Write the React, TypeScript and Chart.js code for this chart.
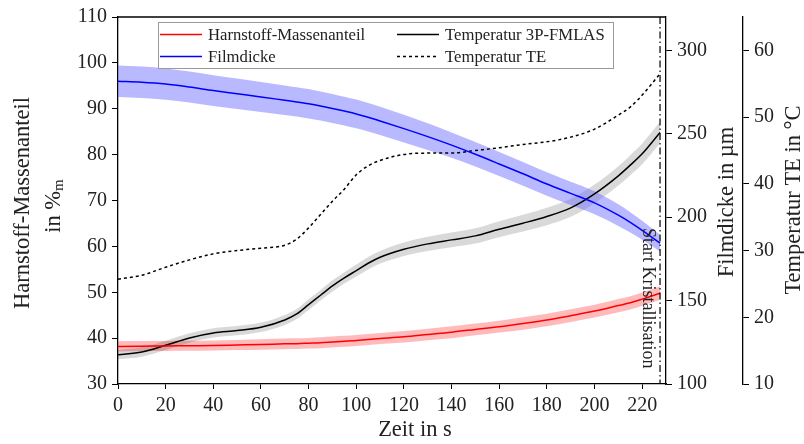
import React, { useEffect, useRef } from "react";
import { Chart, registerables } from "chart.js";

Chart.register(...registerables);

// time in s
const time = [0, 10, 20, 30, 40, 50, 60, 70, 75, 80, 85, 90, 95, 100, 105, 110, 120, 130, 140, 150, 160, 170, 180, 190, 200, 210, 215, 220, 227.5];

// Harnstoff-Massenanteil in %m (left axis)
const harnstoff = [38.2, 38.25, 38.3, 38.35, 38.4, 38.5, 38.6, 38.75, 38.8, 38.9, 39.0, 39.15, 39.3, 39.5, 39.7, 39.9, 40.3, 40.8, 41.3, 41.9, 42.5, 43.2, 43.95, 44.9, 45.9, 47.1, 47.7, 48.5, 49.8];
const harnstoffErr = [1.1, 1.1, 1.1, 1.1, 1.1, 1.1, 1.15, 1.15, 1.15, 1.15, 1.2, 1.2, 1.2, 1.2, 1.2, 1.2, 1.25, 1.25, 1.3, 1.3, 1.3, 1.35, 1.35, 1.4, 1.4, 1.45, 1.45, 1.45, 1.5];

// Filmdicke in µm (right axis 1)
const filmdicke = [281.5, 280.9, 279.8, 278.0, 275.9, 274.0, 272.1, 270.1, 269.1, 268.0, 266.7, 265.2, 263.6, 261.9, 259.9, 257.7, 253.1, 248.3, 243.2, 237.7, 231.9, 226.0, 219.9, 214.3, 208.6, 201.2, 196.9, 192.1, 184.4];
const filmdickeErr = [9.5, 9.5, 9.4, 9.3, 9.2, 9.1, 9.0, 8.9, 8.8, 8.8, 8.7, 8.7, 8.6, 8.6, 8.5, 8.5, 8.3, 8.0, 7.6, 7.3, 7.2, 7.1, 7.0, 7.0, 6.9, 6.5, 6.1, 5.7, 5.0];

// Temperatur 3P-FMLAS in °C (right axis 2)
const temp3p = [14.4, 14.8, 15.8, 16.9, 17.65, 18.0, 18.5, 19.6, 20.5, 21.9, 23.3, 24.7, 25.9, 27.0, 28.1, 29.0, 30.2, 31.0, 31.6, 32.2, 33.2, 34.1, 35.1, 36.4, 38.5, 41.2, 42.8, 44.5, 47.7];
const temp3pErr = [0.7, 0.7, 0.7, 0.7, 0.7, 0.7, 0.7, 0.75, 0.75, 0.8, 0.8, 0.85, 0.85, 0.9, 0.95, 0.95, 1.0, 1.05, 1.1, 1.15, 1.2, 1.25, 1.3, 1.35, 1.4, 1.45, 1.5, 1.55, 1.6];

// Temperatur TE in °C (right axis 2)
const tempTE = [25.7, 26.3, 27.5, 28.6, 29.5, 30.0, 30.35, 30.8, 31.7, 33.4, 35.4, 37.4, 39.2, 41.35, 42.7, 43.5, 44.4, 44.6, 44.6, 45.0, 45.4, 45.9, 46.3, 47.0, 48.2, 50.3, 51.5, 53.3, 56.5];

const xTicks = { min: 0, max: 230, step: 20 };
const yLeft = { min: 30, max: 110, step: 10 };
const yFilm = { min: 100, max: 320, step: 50 };
const yTemp = { min: 10, max: 65, step: 10 };
const kristallisationTime = 227.5;

const FONT = "'Liberation Serif', 'DejaVu Serif', serif";

const pts = (vals: number[]) => time.map((t, i) => ({ x: t, y: vals[i] }));
const band = (vals: number[], err: number[], sign: number) =>
  time.map((t, i) => ({ x: t, y: vals[i] + sign * err[i] }));

export default function App() {
  const ref = useRef<HTMLCanvasElement | null>(null);

  useEffect(() => {
    if (!ref.current) return;

    const overlay = {
      id: "overlay",
      afterDatasetsDraw(chart: any) {
        const { ctx, chartArea, scales } = chart;
        const { left, right, top, bottom } = chartArea;
        ctx.save();
        // top border
        ctx.strokeStyle = "#000";
        ctx.lineWidth = 1.3;
        ctx.beginPath();
        ctx.moveTo(left, top);
        ctx.lineTo(right, top);
        ctx.stroke();

        // vertical dash-dot line
        const xv = scales.x.getPixelForValue(kristallisationTime);
        ctx.setLineDash([7, 3, 1.5, 3]);
        ctx.lineWidth = 1.2;
        ctx.beginPath();
        ctx.moveTo(xv, top);
        ctx.lineTo(xv, bottom);
        ctx.stroke();
        ctx.setLineDash([]);

        // Start Kristallisation
        ctx.fillStyle = "#222";
        ctx.font = `18px ${FONT}`;
        ctx.save();
        ctx.translate(xv - 12, 228);
        ctx.rotate(Math.PI / 2);
        ctx.textAlign = "left";
        ctx.textBaseline = "middle";
        ctx.fillText("Start Kristallisation", 0, 0);
        ctx.restore();

        // legend box
        const bx = 158, by = 22, bw = 455, bh = 46;
        ctx.fillStyle = "#fff";
        ctx.fillRect(bx, by, bw, bh);
        ctx.strokeStyle = "#999";
        ctx.lineWidth = 1;
        ctx.strokeRect(bx + 0.5, by + 0.5, bw, bh);
        const items = [
          { x: 160, y: 34.5, color: "#ff0000", dash: [] as number[], label: "Harnstoff-Massenanteil" },
          { x: 160, y: 56.5, color: "#0000ff", dash: [] as number[], label: "Filmdicke" },
          { x: 397, y: 34.5, color: "#000", dash: [] as number[], label: "Temperatur 3P-FMLAS" },
          { x: 397, y: 56.5, color: "#000", dash: [3, 3], label: "Temperatur TE" },
        ];
        ctx.font = `16.7px ${FONT}`;
        ctx.textAlign = "left";
        ctx.textBaseline = "middle";
        for (const it of items) {
          ctx.strokeStyle = it.color;
          ctx.lineWidth = 1.5;
          ctx.setLineDash(it.dash);
          ctx.beginPath();
          ctx.moveTo(it.x, it.y);
          ctx.lineTo(it.x + 42, it.y);
          ctx.stroke();
          ctx.setLineDash([]);
          ctx.fillStyle = "#222";
          ctx.fillText(it.label, it.x + 48, it.y + 1);
        }

        // axis titles
        const TF = `22.5px ${FONT}`;
        ctx.fillStyle = "#222";
        ctx.font = TF;
        ctx.textAlign = "center";
        ctx.textBaseline = "middle";
        // left
        ctx.save();
        ctx.translate(23, 203);
        ctx.rotate(-Math.PI / 2);
        ctx.fillText("Harnstoff-Massenanteil", 0, 0);
        ctx.restore();
        ctx.save();
        ctx.translate(54, 206);
        ctx.rotate(-Math.PI / 2);
        const main = "in %";
        ctx.font = TF;
        const w1 = ctx.measureText(main).width;
        ctx.font = `15px ${FONT}`;
        const w2 = ctx.measureText("m").width;
        const start = -(w1 + w2) / 2;
        ctx.textAlign = "left";
        ctx.font = TF;
        ctx.fillText(main, start, 0);
        ctx.font = `15px ${FONT}`;
        ctx.fillText("m", start + w1, 5);
        ctx.restore();
        // right 1
        ctx.textAlign = "center";
        ctx.font = TF;
        ctx.save();
        ctx.translate(727, 202);
        ctx.rotate(-Math.PI / 2);
        ctx.fillText("Filmdicke in µm", 0, 0);
        ctx.restore();
        // right 2
        ctx.save();
        ctx.translate(794, 200);
        ctx.rotate(-Math.PI / 2);
        ctx.fillText("Temperatur TE in °C", 0, 0);
        ctx.restore();
        // x title
        ctx.fillText("Zeit in s", 415, 430);
        ctx.restore();
      },
    };

    const lineBase = {
      pointRadius: 0,
      borderWidth: 1.5,
      cubicInterpolationMode: "monotone" as const,
      fill: false,
    };
    const bandBase = {
      pointRadius: 0,
      borderWidth: 0,
      cubicInterpolationMode: "monotone" as const,
    };

    const chart = new Chart(ref.current, {
      type: "line",
      data: {
        datasets: [
          // bands
          { ...bandBase, data: band(filmdicke, filmdickeErr, 1), yAxisID: "y1", backgroundColor: "rgba(100,100,255,0.45)", borderColor: "transparent", fill: "+1", order: 10 },
          { ...bandBase, data: band(filmdicke, filmdickeErr, -1), yAxisID: "y1", borderColor: "transparent", fill: false, order: 10 },
          { ...bandBase, data: band(temp3p, temp3pErr, 1), yAxisID: "y2", backgroundColor: "rgba(0,0,0,0.15)", borderColor: "transparent", fill: "+1", order: 10 },
          { ...bandBase, data: band(temp3p, temp3pErr, -1), yAxisID: "y2", borderColor: "transparent", fill: false, order: 10 },
          { ...bandBase, data: band(harnstoff, harnstoffErr, 1), yAxisID: "y", backgroundColor: "rgba(255,60,60,0.35)", borderColor: "transparent", fill: "+1", order: 10 },
          { ...bandBase, data: band(harnstoff, harnstoffErr, -1), yAxisID: "y", borderColor: "transparent", fill: false, order: 10 },
          // lines
          { ...lineBase, label: "Harnstoff-Massenanteil", data: pts(harnstoff), yAxisID: "y", borderColor: "#ff0000", order: 1 },
          { ...lineBase, label: "Filmdicke", data: pts(filmdicke), yAxisID: "y1", borderColor: "#0000ff", order: 1 },
          { ...lineBase, label: "Temperatur 3P-FMLAS", data: pts(temp3p), yAxisID: "y2", borderColor: "#000", order: 1 },
          { ...lineBase, label: "Temperatur TE", data: pts(tempTE), yAxisID: "y2", borderColor: "#000", borderDash: [3, 3], order: 1 },
        ],
      },
      options: {
        responsive: false,
        animation: false,
        layout: { padding: { top: 17, left: 0, right: 0, bottom: 0 } },
        plugins: { legend: { display: false }, tooltip: { enabled: false }, title: { display: false } },
        scales: {
          x: {
            type: "linear",
            min: xTicks.min,
            max: xTicks.max,
            grid: { drawOnChartArea: false, drawTicks: true, tickLength: 5, color: "#000" },
            border: { color: "#000", width: 1.3 },
            ticks: { stepSize: xTicks.step, includeBounds: false, color: "#222", font: { family: FONT, size: 20 }, padding: 5, maxRotation: 0 },
            afterFit: (s: any) => { s.height = 60; },
          },
          y: {
            position: "left",
            min: yLeft.min,
            max: yLeft.max,
            grid: { drawOnChartArea: false, drawTicks: true, tickLength: 6, color: "#000" },
            border: { color: "#000", width: 1.3 },
            ticks: { stepSize: yLeft.step, includeBounds: false, color: "#222", font: { family: FONT, size: 20 }, padding: 5 },
            afterFit: (s: any) => { s.width = 118; },
          },
          y1: {
            position: "right",
            weight: 0,
            min: yFilm.min,
            max: yFilm.max,
            grid: { drawOnChartArea: false, drawTicks: true, tickLength: 6, color: "#000" },
            border: { color: "#000", width: 1.3 },
            ticks: { stepSize: yFilm.step, includeBounds: false, color: "#222", font: { family: FONT, size: 20 }, padding: 5 },
            afterFit: (s: any) => { s.width = 77; },
          },
          y2: {
            position: "right",
            weight: 1,
            min: yTemp.min,
            max: yTemp.max,
            grid: { drawOnChartArea: false, drawTicks: true, tickLength: 6, color: "#000" },
            border: { color: "#000", width: 1.3 },
            ticks: { stepSize: yTemp.step, includeBounds: false, color: "#222", font: { family: FONT, size: 20 }, padding: 5 },
            afterFit: (s: any) => { s.width = 61; },
          },
        },
      },
      plugins: [overlay],
    } as any);

    return () => chart.destroy();
  }, []);

  return (
    <div style={{ position: "fixed", left: 0, top: 0, width: 804, height: 444, background: "#fff" }}>
      <canvas ref={ref} width={804} height={444} style={{ display: "block" }} />
    </div>
  );
}
